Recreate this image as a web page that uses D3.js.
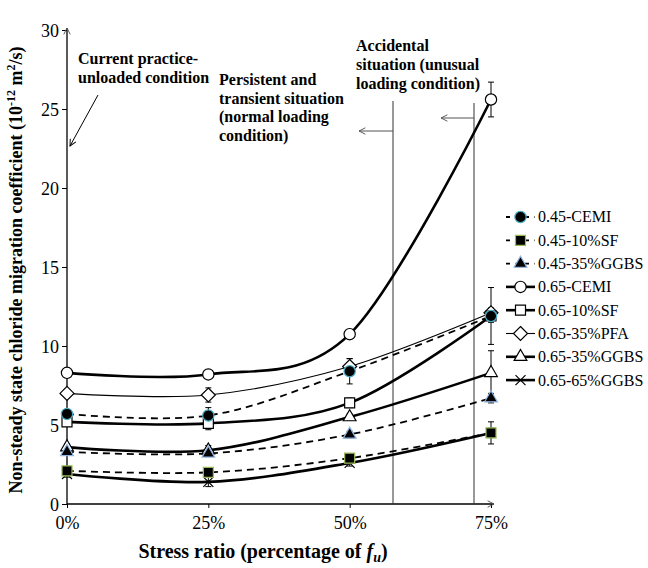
<!DOCTYPE html>
<html><head><meta charset="utf-8">
<script src="https://cdn.jsdelivr.net/npm/d3@7"></script>
<style>body{margin:0;background:#fff}svg{display:block}text{font-family:"Liberation Serif","Times New Roman",serif;fill:#000}</style>
</head><body><svg id="c" width="648" height="568"></svg>
<script>
const stress = [0, 25, 50, 75];
const xTickLabels = ["0%", "25%", "50%", "75%"];
const yTicks = [0, 5, 10, 15, 20, 25, 30];
const seriesNames = ["0.45-CEMI","0.45-10%SF","0.45-35%GGBS","0.65-CEMI","0.65-10%SF","0.65-35%PFA","0.65-35%GGBS","0.65-65%GGBS"];
const cemi45 = [5.7, 5.6, 8.4, 11.9];
const sf45 = [2.1, 2.0, 2.9, 4.5];
const ggbs45 = [3.3, 3.2, 4.4, 6.7];
const cemi65 = [8.3, 8.2, 10.75, 25.6];
const sf65 = [5.2, 5.1, 6.4, 11.9];
const pfa65 = [7.0, 6.9, 8.7, 12.1];
const ggbs35_65 = [3.6, 3.4, 5.5, 8.3];
const ggbs65_65 = [1.9, 1.4, 2.6, 4.5];
const cemi45Err = [0.2, 0.5, 0.8, 0.4];
const sf45Err = [0.15, 0.15, 0.2, 0.7];
const ggbs45Err = [0.2, 0.2, 0.2, 0.3];
const cemi65Err = [0.2, 0.25, 0.3, 1.1];
const sf65Err = [0.2, 0.4, 0.3, 1.8];
const pfa65Err = [0.2, 0.45, 0.5, 0.3];
const ggbs35_65Err = [0.2, 0.3, 0.2, 1.4];
const ggbs65_65Err = [0.2, 0.3, 0.2, 0.3];

const series = [
  {name: seriesNames[0], v: cemi45, e: cemi45Err, type: "circle", fill: "#000", stroke: "#4bacc6", dash: "7,5", w: 1.8},
  {name: seriesNames[1], v: sf45, e: sf45Err, type: "square", fill: "#000", stroke: "#9bbb59", dash: "7,5", w: 1.8},
  {name: seriesNames[2], v: ggbs45, e: ggbs45Err, type: "triangle", fill: "#000", stroke: "#8eb4e3", dash: "7,5", w: 1.8},
  {name: seriesNames[3], v: cemi65, e: cemi65Err, type: "circle", fill: "#fff", stroke: "#000", dash: null, w: 2.6},
  {name: seriesNames[4], v: sf65, e: sf65Err, type: "square", fill: "#fff", stroke: "#000", dash: null, w: 2.6},
  {name: seriesNames[5], v: pfa65, e: pfa65Err, type: "diamond", fill: "#fff", stroke: "#000", dash: null, w: 1.1},
  {name: seriesNames[6], v: ggbs35_65, e: ggbs35_65Err, type: "triangle", fill: "#fff", stroke: "#000", dash: null, w: 2.6},
  {name: seriesNames[7], v: ggbs65_65, e: ggbs65_65Err, type: "x", fill: "none", stroke: "#000", dash: null, w: 2.6}
];

const svg = d3.select("#c");
const x = d3.scaleLinear().domain([0, 75]).range([67, 491]);
const y = d3.scaleLinear().domain([0, 30]).range([504, 30]);

const defs = svg.append("defs");
function arrowDef(id, color){
  defs.append("marker").attr("id", id).attr("viewBox","0 0 10 10").attr("refX",9).attr("refY",5)
    .attr("markerWidth",8).attr("markerHeight",8).attr("orient","auto-start-reverse").attr("markerUnits","userSpaceOnUse")
    .append("path").attr("d","M1,1 L9,5 L1,9").attr("fill","none").attr("stroke",color).attr("stroke-width",1.2);
}
arrowDef("ah", "#555");
arrowDef("ahk", "#000");

const yAxis = d3.axisLeft(y).tickValues(yTicks).tickSize(5).tickFormat(d3.format("d"));
const gy = svg.append("g").attr("transform", `translate(${x(0)},0)`).call(yAxis);
gy.select(".domain").remove();
gy.selectAll("text").style("font-size","18px").attr("x",-8).attr("dy","0.34em");
const xAxis = d3.axisBottom(x).tickValues(stress).tickSize(4).tickFormat((d,i)=>xTickLabels[i]);
const gx = svg.append("g").attr("transform", `translate(0,${y(0)})`).call(xAxis);
gx.select(".domain").remove();
gx.selectAll("text").style("font-size","18px").attr("y",12).attr("dy","0.71em");
svg.append("line").attr("x1",x(0)).attr("y1",y(0)).attr("x2",x(0)).attr("y2",28).attr("stroke","#000").attr("stroke-width",1.3).attr("marker-end","url(#ah)");
svg.append("line").attr("x1",x(0)).attr("y1",y(0)).attr("x2",x(75)+3).attr("y2",y(0)).attr("stroke","#000").attr("stroke-width",1.3).attr("marker-end","url(#ah)");

svg.append("line").attr("x1",393).attr("y1",101).attr("x2",393).attr("y2",y(0)).attr("stroke","#333").attr("stroke-width",1);
svg.append("line").attr("x1",474).attr("y1",103).attr("x2",474).attr("y2",y(0)).attr("stroke","#333").attr("stroke-width",1);
svg.append("line").attr("x1",393).attr("y1",131).attr("x2",359).attr("y2",131).attr("stroke","#555").attr("stroke-width",1.2).attr("marker-end","url(#ah)");
svg.append("line").attr("x1",474).attr("y1",118).attr("x2",441).attr("y2",118).attr("stroke","#555").attr("stroke-width",1.2).attr("marker-end","url(#ah)");
svg.append("line").attr("x1",98).attr("y1",95).attr("x2",70).attr("y2",146).attr("stroke","#000").attr("stroke-width",1).attr("marker-end","url(#ahk)");

const line = d3.line().x((d,i)=>x(stress[i])).y(d=>y(d)).curve(d3.curveCardinal.tension(0));
const gl = svg.append("g");
series.forEach(s=>{
  gl.append("path").attr("d", line(s.v)).attr("fill","none").attr("stroke","#000")
    .attr("stroke-width", s.w).attr("stroke-dasharray", s.dash);
});
const ge = svg.append("g").attr("stroke","#000").attr("stroke-width",1);
series.forEach(s=>{
  s.v.forEach((v,i)=>{
    const cx = x(stress[i]), e = s.e[i];
    ge.append("line").attr("x1",cx).attr("x2",cx).attr("y1",y(v+e)).attr("y2",y(v-e));
    ge.append("line").attr("x1",cx-3).attr("x2",cx+3).attr("y1",y(v+e)).attr("y2",y(v+e));
    ge.append("line").attr("x1",cx-3).attr("x2",cx+3).attr("y1",y(v-e)).attr("y2",y(v-e));
  });
});
function markerPath(type){
  if(type==="circle") return d3.symbol(d3.symbolCircle, 100)();
  if(type==="square") return d3.symbol(d3.symbolSquare, 100)();
  if(type==="triangle") return d3.symbol(d3.symbolTriangle, 70)();
  if(type==="diamond") return "M0,-7L7,0L0,7L-7,0Z";
  if(type==="x") return "M-5,-5L5,5M-5,5L5,-5";
}
function drawMarker(g, s, cx, cy){
  g.append("path").attr("d", markerPath(s.type)).attr("transform",`translate(${cx},${cy})`)
    .attr("fill", s.fill).attr("stroke", s.stroke).attr("stroke-width", 1.2);
}
const gm = svg.append("g");
series.slice().reverse().forEach(s=>{
  s.v.forEach((v,i)=> drawMarker(gm, s, x(stress[i]), y(v)));
});

const lg = svg.append("g");
series.forEach((s,i)=>{
  const ly = 217 + i*23.3;
  lg.append("line").attr("x1",506).attr("x2",535).attr("y1",ly).attr("y2",ly).attr("stroke","#000")
    .attr("stroke-width", s.w).attr("stroke-dasharray", s.dash ? "4,5.5" : null);
  drawMarker(lg, s, 520.5, ly);
  lg.append("text").attr("x",538).attr("y",ly).attr("dy","0.34em").style("font-size","16px").text(s.name);
});

function multi(xp, yp, lines, lh){
  const t = svg.append("text").attr("x",xp).attr("y",yp).style("font-size","16px").style("font-weight","bold");
  lines.forEach((l,i)=> t.append("tspan").attr("x",xp).attr("dy", i===0?0:lh).text(l));
}
multi(78, 64, ["Current practice-","unloaded condition"], 18.5);
multi(219, 85, ["Persistent and","transient situation","(normal loading","condition)"], 18.5);
multi(356, 51, ["Accidental","situation (unusual","loading condition)"], 19);

const xt = svg.append("text").attr("x",263).attr("y",558).attr("text-anchor","middle").style("font-size","20px").style("font-weight","bold");
xt.append("tspan").text("Stress ratio (percentage of ");
xt.append("tspan").style("font-style","italic").text("f");
xt.append("tspan").style("font-style","italic").attr("dy",4).style("font-size","14px").text("u");
xt.append("tspan").attr("dy",-4).text(")");
const yt = svg.append("text").attr("transform","translate(22,270) rotate(-90)").attr("text-anchor","middle").style("font-size","18px").style("font-weight","bold");
yt.append("tspan").text("Non-steady state chloride migration coefficient (10");
yt.append("tspan").attr("dy",-7).style("font-size","12px").text("-12");
yt.append("tspan").attr("dy",7).text(" m");
yt.append("tspan").attr("dy",-7).style("font-size","12px").text("2");
yt.append("tspan").attr("dy",7).text("/s)");
</script></body></html>
